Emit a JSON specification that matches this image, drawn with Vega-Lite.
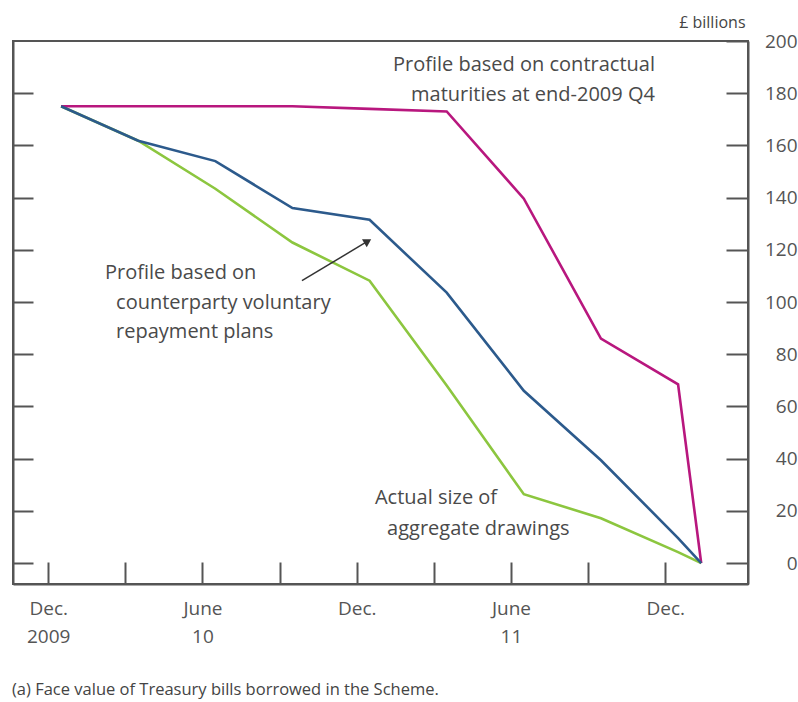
{
  "$schema": "https://vega.github.io/schema/vega-lite/v6.json",
  "width": 735,
  "height": 543,
  "autosize": {"type": "none"},
  "padding": {"left": 13, "top": 41, "right": 50, "bottom": 118},
  "background": "white",
  "title": {
    "text": "(a)  Face value of Treasury bills borrowed in the Scheme.",
    "orient": "bottom",
    "anchor": "start",
    "font": "Open Sans",
    "fontSize": 16.5,
    "fontWeight": "normal",
    "color": "#444444",
    "offset": 36
  },
  "config": {
    "view": {"stroke": "#555555", "strokeWidth": 2},
    "font": "Open Sans",
    "axis": {
      "grid": false,
      "domainColor": "#555555",
      "domainWidth": 2,
      "tickColor": "#555555",
      "tickWidth": 2,
      "labelFont": "Open Sans",
      "labelFontSize": 19,
      "labelColor": "#555555",
      "labelFlush": false,
      "labelOverlap": false
    }
  },
  "datasets": {
    "series": [
      {"series": "Actual", "month": 0.5, "value": 175},
      {"series": "Actual", "month": 3.5, "value": 161.8},
      {"series": "Actual", "month": 6.5, "value": 143.4},
      {"series": "Actual", "month": 9.5, "value": 122.8},
      {"series": "Actual", "month": 12.5, "value": 108.2},
      {"series": "Actual", "month": 15.5, "value": 68},
      {"series": "Actual", "month": 18.5, "value": 26.4},
      {"series": "Actual", "month": 21.5, "value": 17.2},
      {"series": "Actual", "month": 24.5, "value": 4.2},
      {"series": "Actual", "month": 25.4, "value": 0},
      {"series": "Contractual", "month": 0.5, "value": 175},
      {"series": "Contractual", "month": 3.5, "value": 175},
      {"series": "Contractual", "month": 6.5, "value": 175},
      {"series": "Contractual", "month": 9.5, "value": 175},
      {"series": "Contractual", "month": 12.5, "value": 174},
      {"series": "Contractual", "month": 15.5, "value": 173},
      {"series": "Contractual", "month": 18.5, "value": 139.6},
      {"series": "Contractual", "month": 21.5, "value": 86},
      {"series": "Contractual", "month": 24.5, "value": 68.5},
      {"series": "Contractual", "month": 25.4, "value": 0},
      {"series": "Voluntary", "month": 0.5, "value": 175},
      {"series": "Voluntary", "month": 3.5, "value": 161.8},
      {"series": "Voluntary", "month": 6.5, "value": 154},
      {"series": "Voluntary", "month": 9.5, "value": 136},
      {"series": "Voluntary", "month": 12.5, "value": 131.5},
      {"series": "Voluntary", "month": 15.5, "value": 103.6},
      {"series": "Voluntary", "month": 18.5, "value": 66},
      {"series": "Voluntary", "month": 21.5, "value": 39.4},
      {"series": "Voluntary", "month": 24.5, "value": 9.6},
      {"series": "Voluntary", "month": 25.4, "value": 0}
    ],
    "notesRight": [
      {"label": "Profile based on contractual", "month": 23.6, "value": 190.8},
      {"label": "maturities at end-2009 Q4", "month": 23.6, "value": 179.3}
    ],
    "notesLeft": [
      {"label": "Profile based on", "month": 2.21, "value": 111.3},
      {"label": "counterparty voluntary", "month": 2.64, "value": 99.8},
      {"label": "repayment plans", "month": 2.64, "value": 88.7},
      {"label": "Actual size of", "month": 12.71, "value": 24.9},
      {"label": "aggregate drawings", "month": 13.18, "value": 13}
    ],
    "arrow": [
      {"month": 9.87, "value": 108.2, "month2": 12.43, "value2": 123.3}
    ]
  },
  "layer": [
    {
      "data": {"name": "series"},
      "mark": {"type": "line", "strokeWidth": 2.6},
      "encoding": {
        "x": {
          "field": "month",
          "type": "quantitative",
          "scale": {"domain": [-1.37, 27.22], "nice": false, "zero": false},
          "axis": {
            "orient": "bottom",
            "title": null,
            "values": [0, 3, 6, 9, 12, 15, 18, 21, 24],
            "tickSize": -22,
            "labelPadding": 37,
            "labelLineHeight": 28,
            "labelExpr": "datum.value == 0 ? ['Dec.', '2009'] : datum.value == 6 ? ['June', '10'] : datum.value == 12 ? ['Dec.', ''] : datum.value == 18 ? ['June', '11'] : datum.value == 24 ? ['Dec.', ''] : ''"
          }
        },
        "y": {
          "field": "value",
          "type": "quantitative",
          "scale": {"domain": [-8, 200], "nice": false, "zero": false},
          "axis": {
            "orient": "right",
            "title": "£ billions",
            "titleAngle": 0,
            "titleAlign": "right",
            "titleBaseline": "middle",
            "titleX": -3,
            "titleY": -19,
            "titleFont": "Open Sans",
            "titleFontSize": 16,
            "titleFontWeight": "normal",
            "titleColor": "#444444",
            "values": [0, 20, 40, 60, 80, 100, 120, 140, 160, 180, 200],
            "tickSize": -22,
            "labelAlign": "right",
            "labelPadding": 71
          }
        },
        "color": {
          "field": "series",
          "type": "nominal",
          "scale": {"domain": ["Actual", "Contractual", "Voluntary"], "range": ["#8cc63f", "#b8177e", "#2c5a8c"]},
          "legend": null
        }
      }
    },
    {
      "data": {"name": "arrow"},
      "mark": {"type": "rule", "color": "#333333", "strokeWidth": 1.5},
      "encoding": {
        "x": {"field": "month", "type": "quantitative", "axis": null},
        "y": {
          "field": "value",
          "type": "quantitative",
          "axis": {
            "orient": "left",
            "title": null,
            "labels": false,
            "values": [0, 20, 40, 60, 80, 100, 120, 140, 160, 180],
            "tickSize": -20
          }
        },
        "x2": {"field": "month2"},
        "y2": {"field": "value2"}
      }
    },
    {
      "data": {"name": "arrow"},
      "mark": {"type": "point", "shape": "triangle-up", "filled": true, "color": "#333333", "size": 85, "angle": 59, "opacity": 1},
      "encoding": {
        "x": {"field": "month2", "type": "quantitative", "axis": null},
        "y": {"field": "value2", "type": "quantitative", "axis": null}
      }
    },
    {
      "data": {"name": "notesRight"},
      "mark": {"type": "text", "align": "right", "baseline": "middle", "font": "Open Sans", "fontSize": 20, "color": "#4a4a4a"},
      "encoding": {
        "x": {"field": "month", "type": "quantitative", "axis": null},
        "y": {"field": "value", "type": "quantitative", "axis": null},
        "text": {"field": "label"}
      }
    },
    {
      "data": {"name": "notesLeft"},
      "mark": {"type": "text", "align": "left", "baseline": "middle", "font": "Open Sans", "fontSize": 20, "color": "#4a4a4a"},
      "encoding": {
        "x": {"field": "month", "type": "quantitative", "axis": null},
        "y": {"field": "value", "type": "quantitative", "axis": null},
        "text": {"field": "label"}
      }
    }
  ],
  "resolve": {"axis": {"y": "independent", "x": "independent"}}
}
